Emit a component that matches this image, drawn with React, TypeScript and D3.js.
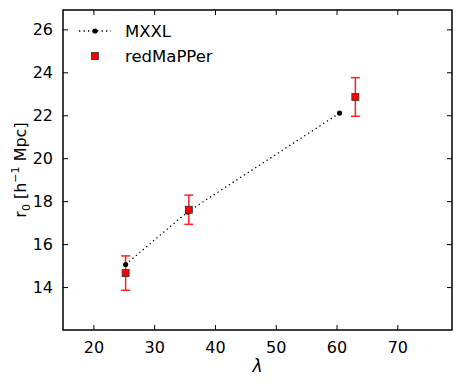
import React, { useRef, useEffect } from "react";
import * as d3 from "d3";

// MXXL simulation points
const mxxlLambda = [25.3, 35.5, 60.5];
const mxxlR0 = [15.05, 17.5, 22.1];

// redMaPPer measurements with errors
const rmLambda = [25.3, 35.7, 63.1];
const rmR0 = [14.65, 17.6, 22.85];
const rmErr = [0.8, 0.68, 0.9];

const xTicks = [20, 30, 40, 50, 60, 70];
const yTicks = [14, 16, 18, 20, 22, 24, 26];

function App() {
  const ref = useRef<SVGSVGElement>(null);

  const w = 461,
    h = 385,
    margin = { top: 10, right: 9, bottom: 55, left: 63 };
  const width = w - margin.left - margin.right,
    height = h - margin.top - margin.bottom;

  useEffect(() => {
    const svg = d3.select(ref.current);
    svg.selectAll("*").remove();
    const font = "DejaVu Sans, sans-serif";

    const x = d3.scaleLinear().domain([15, 79]).range([0, width]);
    const y = d3.scaleLinear().domain([12, 26.9]).range([height, 0]);

    const g = svg
      .append("g")
      .attr("transform", `translate(${margin.left},${margin.top})`);

    // inward ticks on all four sides
    const tl = 5;
    g.append("g")
      .attr("transform", `translate(0,${height})`)
      .call(d3.axisBottom(x).tickValues(xTicks).tickSize(-tl).tickPadding(12))
      .call(a => a.select(".domain").remove())
      .call(a => a.selectAll("text").attr("font-size", 16).attr("font-family", font).attr("fill", "#000"));
    g.append("g")
      .call(d3.axisTop(x).tickValues(xTicks).tickSize(-tl).tickFormat(() => ""))
      .call(a => a.select(".domain").remove());
    g.append("g")
      .call(d3.axisLeft(y).tickValues(yTicks).tickSize(-tl).tickPadding(10))
      .call(a => a.select(".domain").remove())
      .call(a => a.selectAll("text").attr("font-size", 16).attr("font-family", font).attr("fill", "#000"));
    g.append("g")
      .attr("transform", `translate(${width},0)`)
      .call(d3.axisRight(y).tickValues(yTicks).tickSize(-tl).tickFormat(() => ""))
      .call(a => a.select(".domain").remove());
    g.selectAll(".tick line").attr("stroke", "#000").attr("stroke-width", 1);

    // dotted MXXL line
    const mxxl = mxxlLambda.map((l, i) => [l, mxxlR0[i]] as [number, number]);
    g.append("path")
      .datum(mxxl)
      .attr("fill", "none")
      .attr("stroke", "#000")
      .attr("stroke-width", 1.3)
      .attr("stroke-dasharray", "1.3,3.2")
      .attr("d", d3.line().x(d => x(d[0])).y(d => y(d[1])));

    // error bars
    const cap = 4.5;
    rmLambda.forEach((l, i) => {
      const cx = x(l);
      const y0 = y(rmR0[i] - rmErr[i]),
        y1 = y(rmR0[i] + rmErr[i]);
      const eb = g.append("g").attr("stroke", "#ff2020").attr("stroke-width", 1.5);
      eb.append("line").attr("x1", cx).attr("x2", cx).attr("y1", y0).attr("y2", y1);
      eb.append("line").attr("x1", cx - cap).attr("x2", cx + cap).attr("y1", y0).attr("y2", y0);
      eb.append("line").attr("x1", cx - cap).attr("x2", cx + cap).attr("y1", y1).attr("y2", y1);
    });

    // MXXL dots
    g.selectAll(".mxxl")
      .data(mxxl)
      .enter()
      .append("circle")
      .attr("cx", d => x(d[0]))
      .attr("cy", d => y(d[1]))
      .attr("r", 2.6)
      .attr("fill", "#000");

    // redMaPPer squares
    const s = 7;
    g.selectAll(".rm")
      .data(rmLambda)
      .enter()
      .append("rect")
      .attr("x", (d) => x(d) - s / 2)
      .attr("y", (d, i) => y(rmR0[i]) - s / 2)
      .attr("width", s)
      .attr("height", s)
      .attr("fill", "#ff0000")
      .attr("stroke", "#333")
      .attr("stroke-width", 0.8);

    // frame
    g.append("rect")
      .attr("width", width)
      .attr("height", height)
      .attr("fill", "none")
      .attr("stroke", "#000")
      .attr("stroke-width", 1.5);

    // legend
    const lg = g.append("g");
    lg.append("line")
      .attr("x1", 16).attr("x2", 48).attr("y1", 21).attr("y2", 21)
      .attr("stroke", "#000").attr("stroke-width", 1.3).attr("stroke-dasharray", "1.3,3.2");
    lg.append("circle").attr("cx", 32).attr("cy", 21).attr("r", 2.6).attr("fill", "#000");
    lg.append("text").attr("x", 62).attr("y", 27).text("MXXL")
      .attr("font-size", 16.5).attr("font-family", font);
    lg.append("rect").attr("x", 32 - s / 2).attr("y", 46 - s / 2).attr("width", s).attr("height", s)
      .attr("fill", "#ff0000").attr("stroke", "#333").attr("stroke-width", 0.8);
    lg.append("text").attr("x", 62).attr("y", 52).text("redMaPPer")
      .attr("font-size", 16.5).attr("font-family", font);

    // axis labels
    svg.append("text")
      .attr("x", margin.left + x(47))
      .attr("y", 372)
      .attr("text-anchor", "middle")
      .attr("font-size", 17)
      .attr("font-style", "italic")
      .attr("font-family", font)
      .text("λ");

    const yl = svg.append("text")
      .attr("transform", `translate(26,${margin.top + height / 2}) rotate(-90)`)
      .attr("text-anchor", "middle")
      .attr("font-size", 16)
      .attr("font-family", font);
    yl.append("tspan").text("r");
    yl.append("tspan").attr("font-size", 11).attr("dy", 4).text("0");
    yl.append("tspan").attr("dy", -4).text(" [h");
    yl.append("tspan").attr("font-size", 11).attr("dy", -7).text("−1");
    yl.append("tspan").attr("dy", 7).text(" Mpc]");
  }, [width, height]);

  return (
    <svg
      ref={ref}
      width={w}
      height={h}
      style={{ position: "absolute", left: 0, top: 0, background: "#fff" }}
    />
  );
}

export default App;
